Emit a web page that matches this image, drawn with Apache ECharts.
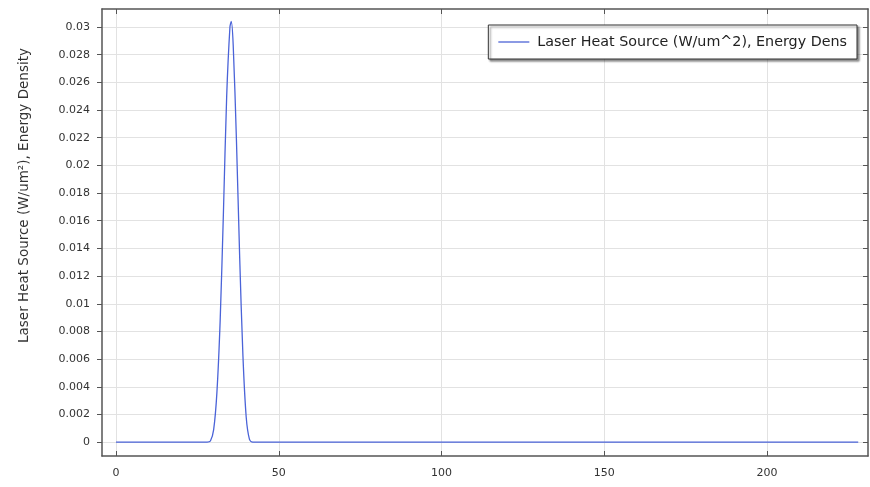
<!DOCTYPE html>
<html>
<head>
<meta charset="utf-8">
<script src="https://cdn.jsdelivr.net/npm/echarts@6/dist/echarts.min.js"></script>
<style>
  html, body { margin: 0; padding: 0; background: #fff; }
  #chart { width: 870px; height: 487px; }
</style>
</head>
<body>
<div id="chart"></div>
<script>
// arc length (um) and heat source values
var xs = [0, 10, 20, 28, 29, 30, 31, 32, 33, 34, 35, 35.4, 36, 37, 38, 39, 40, 41, 42, 50, 100, 150, 200, 228]
var ys = [0, 0, 0, 0, 0.00008, 0.0009, 0.0036, 0.0088, 0.0166, 0.025, 0.030, 0.0304, 0.0287, 0.0218, 0.0133, 0.0062, 0.0018, 0.0002, 0, 0, 0, 0, 0, 0]
var xTicks = [0, 50, 100, 150, 200]
var yTicks = [0, 0.002, 0.004, 0.006, 0.008, 0.01, 0.012, 0.014, 0.016, 0.018, 0.02, 0.022, 0.024, 0.026, 0.028, 0.03]
var seriesName = 'Laser Heat Source (W/um^2), Energy Dens'
var yName = 'Laser Heat Source (W/um²), Energy Density'

var chart = echarts.init(document.getElementById('chart'))

var font = { fontFamily: 'DejaVu Sans', fontSize: 11, color: '#333' }
var xMin = -4.3, xMax = 231
var yMin = -0.001, yMax = 0.0313

function xAxis (pos, show) {
  return {
    type: 'value', position: pos, min: xMin, max: xMax,
    axisLine: { show: true, onZero: false, lineStyle: { color: '#555', width: 1.5 } },
    axisTick: { show: true, inside: true, length: 5, customValues: xTicks, lineStyle: { color: '#555' } },
    axisLabel: Object.assign({ show: show, margin: 12, customValues: xTicks }, font),
    splitLine: { show: show, lineStyle: { color: '#e2e2e2', width: 1 } }
  }
}

function yAxis (pos, show) {
  return {
    type: 'value', position: pos, min: yMin, max: yMax,
    name: show ? yName : '',
    nameLocation: 'middle', nameGap: 71,
    nameTextStyle: { fontFamily: 'DejaVu Sans', fontSize: 13.5, color: '#333', padding: [0, 0, 0, 74] },
    axisLine: { show: true, onZero: false, lineStyle: { color: '#555', width: 1.5 } },
    axisTick: { show: true, inside: !show, length: 5, customValues: yTicks, lineStyle: { color: '#555' } },
    axisLabel: Object.assign({ show: show, margin: 12, customValues: yTicks,
      formatter: function (v) { return String(+v.toFixed(4)) } }, font),
    splitLine: { show: show, lineStyle: { color: '#e2e2e2', width: 1 } }
  }
}

var data = xs.map(function (x, i) { return [x, ys[i]] })

chart.setOption({
  animation: false,
  backgroundColor: '#fff',
  grid: { left: 102, right: 2, top: 9, bottom: 31 },
  legend: {
    top: 25, right: 13,
    padding: [10, 10, 10, 10],
    backgroundColor: '#fff',
    borderColor: '#333', borderWidth: 1,
    shadowColor: 'rgba(0,0,0,0.45)', shadowBlur: 2, shadowOffsetX: 2, shadowOffsetY: 2,
    itemWidth: 31, itemHeight: 10, itemGap: 4,
    icon: 'path://M0,4.3 L31,4.3 L31,5.7 L0,5.7 Z',
    textStyle: { fontFamily: 'DejaVu Sans', fontSize: 14.3, color: '#222', padding: [0, 0, 0, 3] },
    data: [seriesName]
  },
  xAxis: [xAxis('bottom', true), xAxis('top', false)],
  yAxis: [yAxis('left', true), yAxis('right', false)],
  series: [{
    name: seriesName,
    type: 'line',
    data: data,
    showSymbol: false,
    smooth: 0.3,
    lineStyle: { color: '#4a63d8', width: 1.3 },
    itemStyle: { color: '#5a6fd8' }
  }]
})
</script>
</body>
</html>
